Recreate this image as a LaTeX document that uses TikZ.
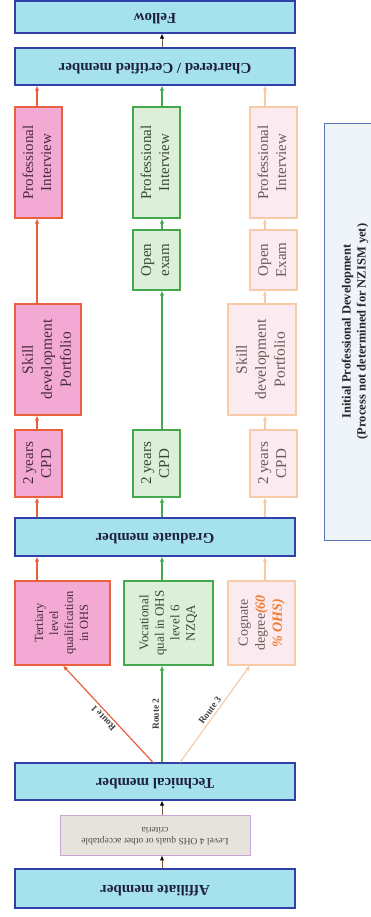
\documentclass[tikz,border=0pt]{standalone}
\usepackage{fontspec}
\setmainfont{Liberation Serif}
\usetikzlibrary{arrows.meta}

\definecolor{barfill}{HTML}{A6E2EE}
\definecolor{barline}{HTML}{3040A8}
\definecolor{bartext}{HTML}{1E2040}
\definecolor{redfill}{HTML}{F2AAD4}
\definecolor{redline}{HTML}{E8603C}
\definecolor{redtext}{HTML}{4A2A40}
\definecolor{grnfill}{HTML}{DDEFD9}
\definecolor{grnline}{HTML}{44A84C}
\definecolor{grntext}{HTML}{384838}
\definecolor{pchfill}{HTML}{FBEAF0}
\definecolor{pchline}{HTML}{F6CBA6}
\definecolor{pchtext}{HTML}{6A5A55}
\definecolor{pchhot}{HTML}{F27A2A}
\definecolor{lvlfill}{HTML}{E6E2DC}
\definecolor{lvlline}{HTML}{C8A8D2}
\definecolor{ipdfill}{HTML}{EEF4FA}
\definecolor{ipdline}{HTML}{5A74B4}
\definecolor{stemcol}{HTML}{806040}

\newcommand{\vtxt}[1]{\rotatebox{90}{\begin{tabular}{@{}c@{}}#1\end{tabular}}}
\newcommand{\fliptxt}[1]{\rotatebox{180}{\begin{tabular}{@{}c@{}}#1\end{tabular}}}

\begin{document}
\begin{tikzpicture}[x=1pt,y=-1pt,
    bar/.style={draw=barline,fill=barfill,line width=1.2pt,minimum width=280pt,inner sep=0pt,
      text=bartext,font=\bfseries\fontsize{15}{17}\selectfont},
    redbox/.style={draw=redline,fill=redfill,line width=1.1pt,inner sep=0pt,text=redtext},
    grnbox/.style={draw=grnline,fill=grnfill,line width=1.1pt,inner sep=0pt,text=grntext},
    pchbox/.style={draw=pchline,fill=pchfill,line width=1.1pt,inner sep=0pt,text=pchtext},
    big/.style={font=\fontsize{15}{18}\selectfont},
    redarr/.style={draw=redline,line width=1.2pt,-{Latex[length=5pt,width=4.5pt]}},
    grnarr/.style={draw=grnline,line width=1.2pt,-{Latex[length=5pt,width=4.5pt]}},
    pcharr/.style={draw=pchline,line width=1.2pt,-{Latex[length=5pt,width=4.5pt]}},
    blkarr/.style={draw=stemcol,line width=1pt,-{Latex[length=5pt,width=4.5pt,black]}},
    routelbl/.style={midway,sloped,allow upside down,above,inner sep=2.5pt,text=black!75,
      font=\bfseries\fontsize{9.5}{11}\selectfont}]
  \useasboundingbox (0,0) rectangle (370,917);

  % columns
  \coordinate (colR) at (37,0);
  \coordinate (colG) at (162,0);
  \coordinate (colP) at (265,0);
  \coordinate (r1s) at (153,0);
  \coordinate (r1e) at (63,0);
  \coordinate (r3s) at (180,0);
  \coordinate (r3e) at (250,0);

  % membership bars
  \node[bar,minimum height=32pt] (fellow) at (155,17) {\fliptxt{Fellow}};
  \node[bar,minimum height=37pt] (chart) at (155,66.5) {\fliptxt{Chartered / Certified member}};
  \node[bar,minimum height=38pt] (grad) at (155,537) {\fliptxt{Graduate member}};
  \node[bar,minimum height=37pt] (tech) at (155,781.5) {\fliptxt{Technical member}};
  \node[bar,minimum height=39pt] (aff) at (155,888.5) {\fliptxt{Affiliate member}};
  \node[draw=lvlline,fill=lvlfill,line width=.9pt,minimum width=190pt,minimum height=40pt,
    inner sep=0pt,text=black!70,font=\fontsize{9.5}{11}\selectfont] (lvl4) at (155,835)
    {\fliptxt{Level 4 OHS quals or other acceptable\\criteria}};

  % route 1
  \node[redbox,minimum width=95pt,minimum height=84pt,font=\fontsize{12.5}{15}\selectfont] (tertR) at (62.5,623)
    {\vtxt{Tertiary\\level\\qualification\\in OHS}};
  \node[redbox,big,minimum width=47pt,minimum height=67pt] (cpdR) at (38.5,463.5) {\vtxt{2 years\\CPD}};
  \node[redbox,minimum width=66pt,minimum height=111pt,font=\fontsize{15.5}{19}\selectfont] (skillR) at (48,359.5)
    {\vtxt{Skill\\development\\Portfolio}};
  \node[redbox,big,minimum width=47pt,minimum height=111pt] (piR) at (38.5,162.5) {\vtxt{Professional\\Interview}};

  % route 2
  \node[grnbox,minimum width=89pt,minimum height=84pt,font=\fontsize{13}{15.5}\selectfont] (vocG) at (168.5,623)
    {\vtxt{Vocational\\qual in OHS\\level 6\\NZQA}};
  \node[grnbox,big,minimum width=47pt,minimum height=67pt] (cpdG) at (156.5,463.5) {\vtxt{2 years\\CPD}};
  \node[grnbox,big,minimum width=47pt,minimum height=60pt] (examG) at (156.5,260) {\vtxt{Open\\exam}};
  \node[grnbox,big,minimum width=47pt,minimum height=111pt] (piG) at (156.5,162.5) {\vtxt{Professional\\Interview}};

  % route 3
  \node[pchbox,minimum width=67pt,minimum height=84pt,font=\fontsize{14}{17}\selectfont] (cogP) at (261.5,623)
    {\vtxt{Cognate\\degree{\color{pchhot}\bfseries\itshape(60}\\{\color{pchhot}\bfseries\itshape\% OHS)}}};
  \node[pchbox,big,minimum width=47pt,minimum height=67pt] (cpdP) at (273.5,463.5) {\vtxt{2 years\\CPD}};
  \node[pchbox,minimum width=68pt,minimum height=111pt,font=\fontsize{15.5}{19}\selectfont] (skillP) at (262,359.5)
    {\vtxt{Skill\\development\\Portfolio}};
  \node[pchbox,big,minimum width=47pt,minimum height=60pt] (examP) at (273.5,260) {\vtxt{Open\\Exam}};
  \node[pchbox,big,minimum width=47pt,minimum height=111pt] (piP) at (273.5,162.5) {\vtxt{Professional\\Interview}};

  % side note
  \node[draw=ipdline,fill=ipdfill,line width=.9pt,minimum width=62pt,minimum height=417pt,inner sep=0pt,
    text=black!85,font=\bfseries\fontsize{12.5}{15}\selectfont] (ipd) at (355,331.5)
    {\vtxt{Initial Professional Development\\(Process not determined for NZISM yet)}};

  % connectors
  \draw[blkarr] (aff.north -| colG) -- (lvl4.south -| colG);
  \draw[blkarr] (lvl4.north -| colG) -- (tech.south -| colG);
  \draw[redarr] (tech.north -| r1s) -- node[routelbl]{Route 1} (tertR.south -| r1e);
  \draw[grnarr] (tech.north -| colG) -- node[routelbl]{Route 2} (vocG.south -| colG);
  \draw[pcharr] (tech.north -| r3s) -- node[routelbl]{Route 3} (cogP.south -| r3e);

  \draw[redarr] (tertR.north -| colR) -- (grad.south -| colR);
  \draw[grnarr] (vocG.north -| colG) -- (grad.south -| colG);
  \draw[pcharr] (cogP.north -| colP) -- (grad.south -| colP);

  \draw[redarr] (grad.north -| colR) -- (cpdR.south -| colR);
  \draw[redarr] (cpdR.north -| colR) -- (skillR.south -| colR);
  \draw[redarr] (skillR.north -| colR) -- (piR.south -| colR);
  \draw[redarr] (piR.north -| colR) -- (chart.south -| colR);

  \draw[grnarr] (grad.north -| colG) -- (cpdG.south -| colG);
  \draw[grnarr] (cpdG.north -| colG) -- (examG.south -| colG);
  \draw[grnarr] (examG.north -| colG) -- (piG.south -| colG);
  \draw[grnarr] (piG.north -| colG) -- (chart.south -| colG);

  \draw[pcharr] (grad.north -| colP) -- (cpdP.south -| colP);
  \draw[pcharr] (cpdP.north -| colP) -- (skillP.south -| colP);
  \draw[pcharr] (skillP.north -| colP) -- (examP.south -| colP);
  \draw[pcharr] (examP.north -| colP) -- (piP.south -| colP);
  \draw[pcharr] (piP.north -| colP) -- (chart.south -| colP);

  \draw[blkarr] (chart.north -| colG) -- (fellow.south -| colG);
\end{tikzpicture}
\end{document}
